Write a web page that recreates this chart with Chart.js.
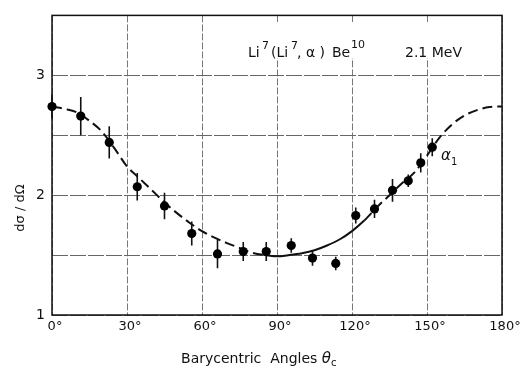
<!DOCTYPE html>
<html lang="en">
<head>
<meta charset="UTF-8">
<title>Li7(Li7, alpha) Be10 angular distribution</title>
<script src="https://cdn.jsdelivr.net/npm/chart.js"></script>
<style>
    html, body { margin: 0; padding: 0; background: #fff; }
    #wrap { width: 522px; height: 368px; position: relative; }
</style>
</head>
<body>
<div id="wrap"><canvas id="distChart"></canvas></div>
<script>
// measured points (alpha_1 group, 2.1 MeV)
const angles = [0, 11.5, 22.9, 34.1, 45, 55.9, 66.2, 76.5, 85.7, 95.7, 104.2, 113.5, 121.5, 129, 136.2, 142.5, 147.5, 152.1];
const values = [2.74, 2.66, 2.44, 2.07, 1.91, 1.68, 1.51, 1.53, 1.53, 1.58, 1.475, 1.43, 1.83, 1.885, 2.04, 2.12, 2.27, 2.40];
const errors = [0.10, 0.16, 0.135, 0.115, 0.11, 0.10, 0.12, 0.08, 0.08, 0.06, 0.065, 0.056, 0.066, 0.076, 0.094, 0.052, 0.08, 0.075];

// fitted curve
const curveAngles = [0, 5, 10, 15, 20, 25, 30, 35, 40, 45, 50, 55, 60, 65, 70, 75, 80, 85, 90, 95, 100, 105, 110, 115, 120, 125, 130, 135, 140, 145, 150, 155, 160, 165, 170, 175, 180];
const curveValues = [2.74, 2.72, 2.69, 2.62, 2.53, 2.39, 2.24, 2.14, 2.04, 1.94, 1.85, 1.77, 1.70, 1.645, 1.60, 1.56, 1.52, 1.50, 1.49, 1.50, 1.515, 1.54, 1.58, 1.63, 1.70, 1.79, 1.90, 2.00, 2.10, 2.19, 2.33, 2.48, 2.59, 2.665, 2.71, 2.735, 2.74];

const xTicks = [0, 30, 60, 90, 120, 150, 180];
const yLabels = [1, 2, 3];

const FONT = '"DejaVu Sans", sans-serif';

// error bars as one broken line: low, high, gap
const barData = [];
angles.forEach((a, i) => {
    barData.push({x: a, y: values[i] - errors[i]});
    barData.push({x: a, y: values[i] + errors[i]});
    barData.push({x: a, y: null});
});

const decorations = {
    id: 'decorations',
    beforeDatasetsDraw(chart) {
        const ctx = chart.ctx;
        const area = chart.chartArea;
        ctx.save();
        // white band behind the reaction label
        ctx.fillStyle = '#fff';
        ctx.fillRect(240, 22, 256, 36);

        ctx.fillStyle = '#111';
        ctx.textBaseline = 'alphabetic';
        const base = 57;
        const main = '14px ' + FONT;
        const sup = '11px ' + FONT;
        const pieces = [
            ['Li', 248, main, base],
            ['7', 262, sup, base - 8],
            ['(Li', 271, main, base],
            ['7', 291, sup, base - 8],
            [', \u03b1 )', 297, main, base],
            ['Be', 332, main, base],
            ['10', 351, sup, base - 9],
            ['2.1 MeV', 405, main, base]
        ];
        pieces.forEach(p => {
            ctx.font = p[2];
            ctx.fillText(p[0], p[1], p[3]);
        });

        // frame
        ctx.strokeStyle = '#111';
        ctx.lineWidth = 1.5;
        ctx.strokeRect(area.left, area.top, area.right - area.left, area.bottom - area.top);

        // curve label
        const xs = chart.scales.x, ys = chart.scales.y;
        const lx = xs.getPixelForValue(155.6), ly = ys.getPixelForValue(2.29);
        ctx.font = 'italic 15px ' + FONT;
        ctx.fillText('\u03b1', lx, ly);
        ctx.font = '10px ' + FONT;
        ctx.fillText('1', lx + 10, ly + 5);

        // x axis title
        ctx.font = '14px ' + FONT;
        ctx.textAlign = 'left';
        const t1 = 'Barycentric  Angles ';
        const w1 = ctx.measureText(t1).width;
        ctx.font = 'italic 15px ' + FONT;
        const w2 = ctx.measureText('\u03b8').width;
        const startX = 259 - (w1 + w2 + 6) / 2;
        ctx.font = '14px ' + FONT;
        ctx.fillText(t1, startX, 363);
        ctx.font = 'italic 15px ' + FONT;
        ctx.fillText('\u03b8', startX + w1, 363);
        ctx.font = '10px ' + FONT;
        ctx.fillText('c', startX + w1 + w2, 366);

        // y axis title
        ctx.translate(21, 208);
        ctx.rotate(-Math.PI / 2);
        ctx.font = '13px ' + FONT;
        ctx.textAlign = 'center';
        ctx.textBaseline = 'middle';
        ctx.fillText('d\u03c3 / d\u03a9', 0, 0);
        ctx.restore();
    }
};

new Chart(document.getElementById('distChart'), {
    type: 'line',
    data: {
        datasets: [
            {
                label: 'fit',
                data: curveAngles.map((a, i) => ({x: a, y: curveValues[i]})),
                borderColor: '#111',
                borderWidth: 2,
                pointRadius: 0,
                cubicInterpolationMode: 'monotone',
                segment: {
                    borderDash: c => (c.p0.parsed.x >= 85 && c.p1.parsed.x <= 125) ? [] : [10, 5]
                },
                order: 3
            },
            {
                label: 'errors',
                data: barData,
                borderColor: '#111',
                borderWidth: 1.6,
                pointRadius: 0,
                spanGaps: false,
                order: 2
            },
            {
                label: 'data',
                data: angles.map((a, i) => ({x: a, y: values[i]})),
                showLine: false,
                pointRadius: 4.6,
                pointBackgroundColor: '#000',
                pointBorderColor: '#000',
                borderWidth: 0,
                order: 1
            }
        ]
    },
    options: {
        responsive: true,
        maintainAspectRatio: false,
        animation: false,
        clip: 8,
        layout: { padding: { top: 5, right: 20, left: 0, bottom: 0 } },
        plugins: {
            legend: { display: false },
            tooltip: { enabled: false }
        },
        scales: {
            x: {
                type: 'linear',
                min: 0,
                max: 180,
                afterFit: s => { s.height = 53; },
                afterBuildTicks: s => { s.ticks = xTicks.map(v => ({value: v})); },
                ticks: {
                    callback: v => v + '\u00b0',
                    font: { family: FONT, size: 13 },
                    color: '#111',
                    padding: 4,
                    labelOffset: 3,
                    maxRotation: 0
                },
                grid: { color: '#777', lineWidth: 1, drawTicks: false },
                border: { display: false, dash: [7, 2] }
            },
            y: {
                min: 1,
                max: 3.5,
                afterFit: s => { s.width = 52; },
                ticks: {
                    stepSize: 0.5,
                    callback: v => yLabels.includes(v) ? String(v) : '',
                    font: { family: FONT, size: 14 },
                    color: '#111',
                    padding: 7
                },
                grid: { color: '#666', lineWidth: 1, drawTicks: false },
                border: { display: false, dash: [16, 2] }
            }
        }
    },
    plugins: [decorations]
});
</script>
</body>
</html>
